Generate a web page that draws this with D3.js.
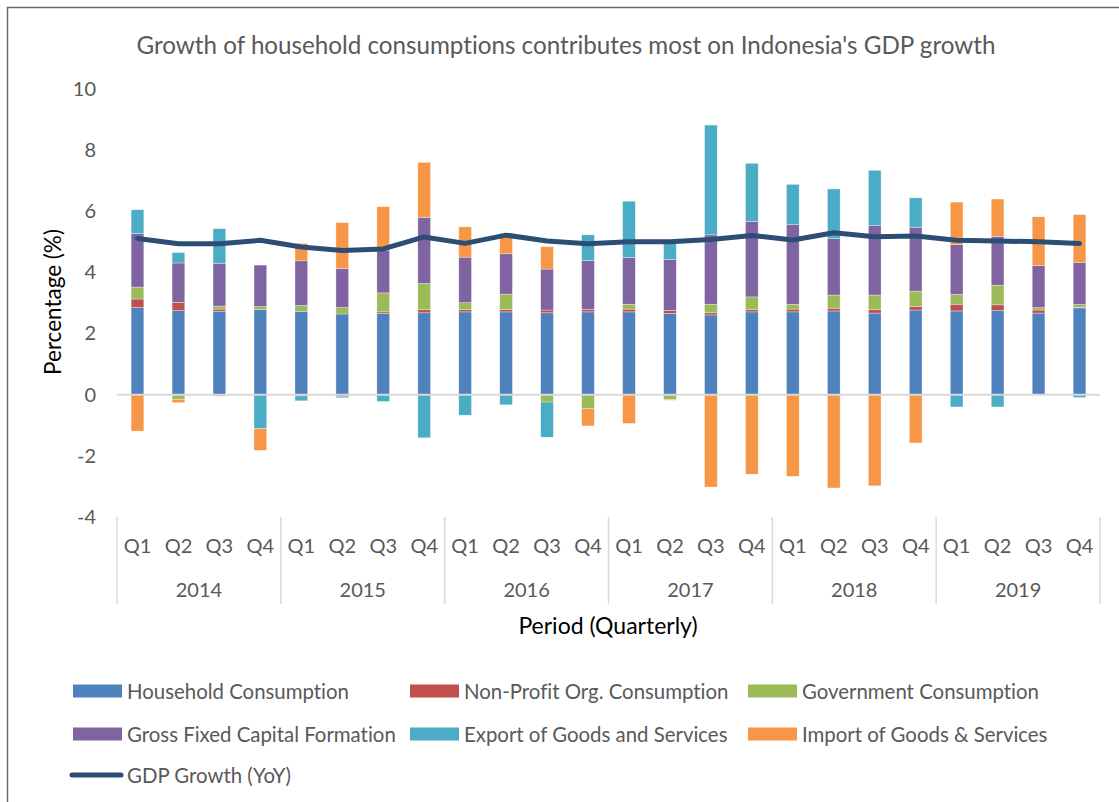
<!DOCTYPE html>
<html>
<head>
<meta charset="utf-8">
<script src="https://cdnjs.cloudflare.com/ajax/libs/d3/7.8.5/d3.min.js"></script>
<style>
  html, body { margin: 0; padding: 0; background: #fff; }
  svg { display: block; }
  text { font-family: Lato, "Open Sans", sans-serif; font-variant-ligatures: none; font-feature-settings: "liga" 0, "clig" 0; }
</style>
</head>
<body>
<svg id="chart" width="1119" height="802"></svg>
<script>
const years = ["2014", "2015", "2016", "2017", "2018", "2019"];
const quarters = ["Q1", "Q2", "Q3", "Q4"];
const yTicks = [-4, -2, 0, 2, 4, 6, 8, 10];

const household   = [2.85, 2.75, 2.73, 2.78, 2.73, 2.64, 2.66, 2.68, 2.71, 2.71, 2.68, 2.71, 2.71, 2.66, 2.61, 2.71, 2.71, 2.74, 2.67, 2.77, 2.74, 2.75, 2.67, 2.84];
const nonProfit   = [0.28, 0.27, 0.07, 0.00, -0.04, -0.05, 0.05, 0.10, 0.07, 0.08, 0.09, 0.08, 0.09, 0.10, 0.07, 0.07, 0.09, 0.09, 0.11, 0.12, 0.22, 0.19, 0.10, 0.02];
const government  = [0.39, -0.15, 0.10, 0.10, 0.19, 0.21, 0.62, 0.86, 0.23, 0.50, -0.24, -0.46, 0.16, -0.15, 0.28, 0.42, 0.16, 0.43, 0.48, 0.50, 0.32, 0.64, 0.08, 0.09];
const gfcf        = [1.75, 1.29, 1.40, 1.36, 1.46, 1.28, 1.40, 2.16, 1.49, 1.32, 1.34, 1.60, 1.53, 1.66, 2.27, 2.47, 2.60, 1.85, 2.27, 2.09, 1.63, 1.60, 1.37, 1.38];
const exportsGS   = [0.78, 0.34, 1.13, -1.11, -0.16, -0.05, -0.22, -1.41, -0.67, -0.33, -1.15, 0.84, 1.84, 0.58, 3.59, 1.90, 1.32, 1.62, 1.81, 0.96, -0.40, -0.40, 0.00, -0.09];
const importsGS   = [-1.19, -0.11, -0.05, -0.71, 0.57, 1.50, 1.42, 1.80, 0.99, 0.66, 0.73, -0.56, -0.94, -0.03, -3.02, -2.60, -2.67, -3.05, -2.98, -1.58, 1.39, 1.22, 1.60, 1.56];
const gdpGrowth   = [5.11, 4.94, 4.94, 5.05, 4.83, 4.72, 4.77, 5.16, 4.95, 5.22, 5.03, 4.94, 5.00, 5.00, 5.08, 5.21, 5.06, 5.30, 5.17, 5.19, 5.05, 5.03, 5.00, 4.95];

const seriesNames = ["Household Consumption", "Non-Profit Org. Consumption", "Government Consumption",
                     "Gross Fixed Capital Formation", "Export of Goods and Services", "Import of Goods & Services"];
const seriesValues = [household, nonProfit, government, gfcf, exportsGS, importsGS];
const seriesColors = ["#4F81BD", "#C0504D", "#9BBB59", "#8064A2", "#4BACC6", "#F79646"];
const lineName = "GDP Growth (YoY)";
const lineColor = "#2C4D75";

const categories = [];
years.forEach(y => quarters.forEach(q => categories.push(y + " " + q)));

const rows = categories.map((c, i) => {
  const r = { cat: c, i: i };
  seriesNames.forEach((n, k) => r[n] = seriesValues[k][i]);
  return r;
});

const FONT = "Lato, 'Open Sans', sans-serif";
const svg = d3.select("#chart");

// outer border
svg.append("rect").attr("x", 7.5).attr("y", 7.5).attr("width", 1140).attr("height", 820)
  .attr("fill", "#fff").attr("stroke", "#6b6b6b").attr("stroke-width", 1.5);

const plotL = 117, plotR = 1100, plotT = 89, plotB = 517;

const x = d3.scaleBand().domain(categories).range([plotL, plotR]).padding(0);
const y = d3.scaleLinear().domain([-4, 10]).range([plotB, plotT]);
const barW = x.bandwidth() * 0.31;

// title
svg.append("text").attr("x", 566).attr("y", 44).attr("text-anchor", "middle")
  .attr("dominant-baseline", "central").attr("fill", "#595959").attr("font-size", 24.2)
  .text("Growth of household consumptions contributes most on Indonesia's GDP growth");

// y axis (labels only)
const yAxis = d3.axisLeft(y).tickValues(yTicks).tickSize(0).tickPadding(0).tickFormat(d => String(d));
const yg = svg.append("g").attr("transform", `translate(96,0)`).call(yAxis);
yg.select(".domain").remove();
yg.selectAll("text").attr("fill", "#595959").attr("font-size", 20).attr("font-family", FONT);

// y axis title
svg.append("text").attr("transform", `translate(52,302) rotate(-90)`).attr("text-anchor", "middle")
  .attr("dominant-baseline", "central").attr("fill", "#000").attr("font-size", 22.5)
  .text("Percentage (%)");

// stacked bars
const stack = d3.stack().keys(seriesNames).offset(d3.stackOffsetDiverging);
const stacked = stack(rows);

const barsG = svg.append("g");
stacked.forEach((layer, k) => {
  barsG.append("g").attr("fill", seriesColors[k])
    .selectAll("rect").data(layer).join("rect")
    .attr("x", d => x(d.data.cat) + (x.bandwidth() - barW) / 2)
    .attr("width", barW)
    .attr("y", d => y(Math.max(d[0], d[1])))
    .attr("height", d => Math.abs(y(d[0]) - y(d[1])))
    .attr("stroke", "#ffffff").attr("stroke-opacity", 0.55).attr("stroke-width", 0.6);
});

// zero line
svg.append("line").attr("x1", plotL).attr("x2", plotR).attr("y1", y(0)).attr("y2", y(0))
  .attr("stroke", "#D9D9D9").attr("stroke-width", 2);

// GDP line
const line = d3.line().x((d, i) => x(categories[i]) + x.bandwidth() / 2).y(d => y(d));
svg.append("path").datum(gdpGrowth).attr("d", line).attr("fill", "none")
  .attr("stroke", lineColor).attr("stroke-width", 5).attr("stroke-linejoin", "round").attr("stroke-linecap", "round");

// category axis (multi-level)
const axG = svg.append("g");
const qAxis = d3.axisBottom(x).tickSize(0).tickPadding(0).tickFormat((d, i) => quarters[i % 4]);
const qg = svg.append("g").attr("transform", `translate(0,545)`).call(qAxis);
qg.select(".domain").remove();
qg.selectAll("text").attr("dy", null).attr("dominant-baseline", "central")
  .attr("fill", "#595959").attr("font-size", 20).attr("font-family", FONT);

const yearStep = x.step() * 4;
years.forEach((yr, j) => {
  axG.append("text").attr("x", x(categories[j * 4]) + yearStep / 2).attr("y", 589)
    .attr("text-anchor", "middle").attr("dominant-baseline", "central")
    .attr("fill", "#595959").attr("font-size", 20).text(yr);
});
d3.range(years.length + 1).forEach(j => {
  const xx = j < years.length ? x(categories[j * 4]) : plotR;
  axG.append("line").attr("x1", xx).attr("x2", xx).attr("y1", plotB).attr("y2", 604)
    .attr("stroke", "#D9D9D9").attr("stroke-width", 1.5);
});

// x axis title
svg.append("text").attr("x", 608).attr("y", 625).attr("text-anchor", "middle")
  .attr("dominant-baseline", "central").attr("fill", "#000").attr("font-size", 23)
  .text("Period (Quarterly)");

// legend
const legCols = [73, 410, 748];
const legRows = [691, 734, 775];
seriesNames.forEach((n, k) => {
  const cx = legCols[k % 3], cy = legRows[Math.floor(k / 3)];
  svg.append("rect").attr("x", cx).attr("y", cy - 6.5).attr("width", 49).attr("height", 13).attr("fill", seriesColors[k]);
  svg.append("text").attr("x", cx + 54).attr("y", cy).attr("dominant-baseline", "central")
    .attr("fill", "#595959").attr("font-size", 20.4).text(n);
});
svg.append("line").attr("x1", 72).attr("x2", 121).attr("y1", legRows[2]).attr("y2", legRows[2])
  .attr("stroke", lineColor).attr("stroke-width", 5).attr("stroke-linecap", "round");
svg.append("text").attr("x", 127).attr("y", legRows[2]).attr("dominant-baseline", "central")
  .attr("fill", "#595959").attr("font-size", 20.4).text(lineName);
</script>
</body>
</html>
